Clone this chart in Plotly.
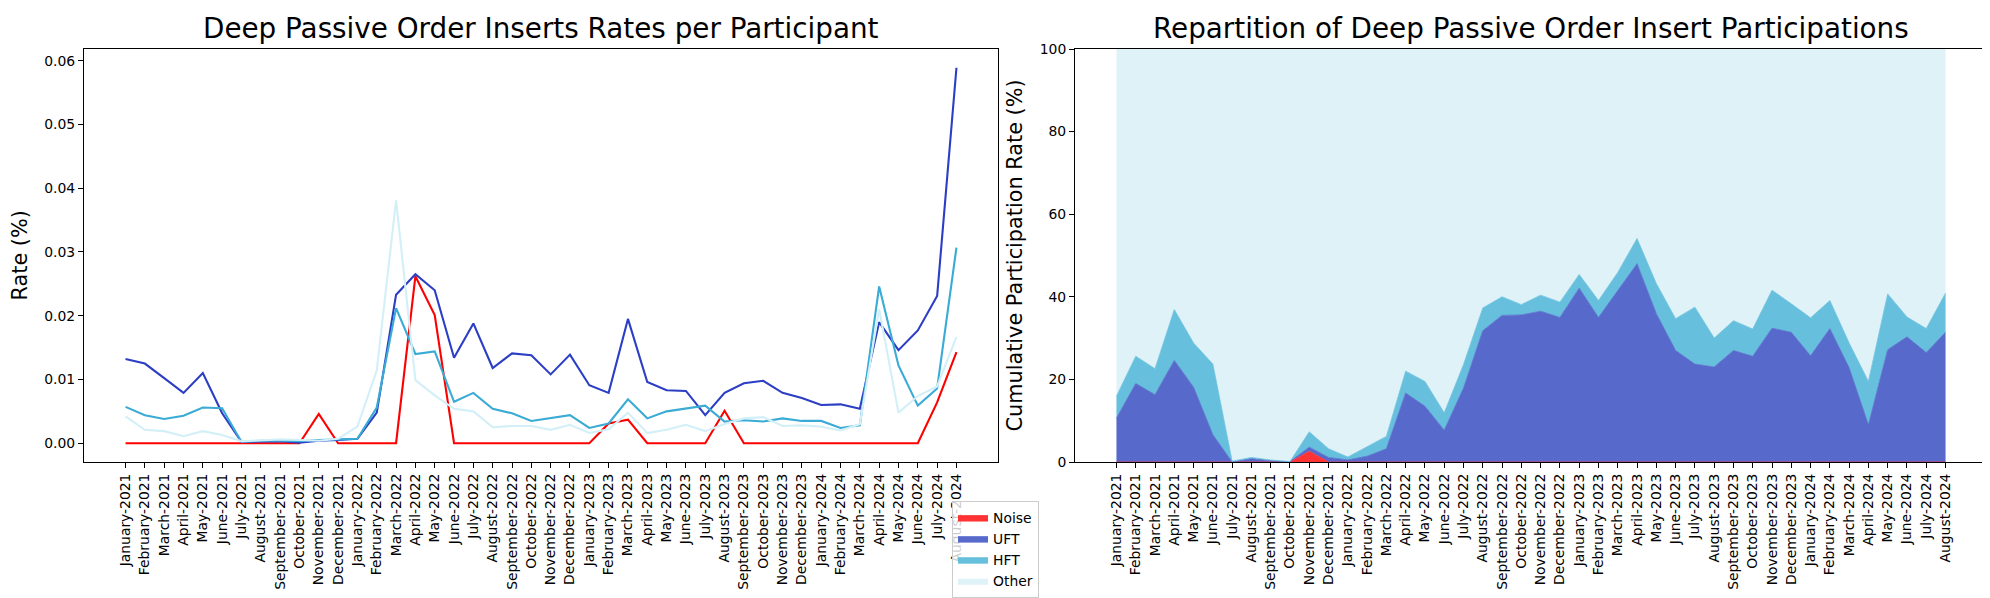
import plotly.graph_objects as go

month_names = ["January", "February", "March", "April", "May", "June", "July",
               "August", "September", "October", "November", "December"]
months = [f"{m}-{y}" for y in (2021, 2022, 2023, 2024) for m in month_names][:44]

# Left chart: Deep passive order insert rates (%) per participant
rate_noise = [0.0, 0.0, 0.0, 0.0, 0.0, 0.0, 0.0, 0.0, 0.0, 0.0, 0.0046, 0.0,
              0.0, 0.0, 0.0, 0.0262, 0.0201, 0.0, 0.0, 0.0, 0.0, 0.0, 0.0, 0.0,
              0.0, 0.0031, 0.0037, 0.0, 0.0, 0.0, 0.0, 0.0051, 0.0, 0.0, 0.0, 0.0,
              0.0, 0.0, 0.0, 0.0, 0.0, 0.0, 0.0064, 0.0143]
rate_uft = [0.0132, 0.0125, 0.0102, 0.0079, 0.0110, 0.0047, 0.0002, 0.0003, 0.0003, 0.0001, 0.0004, 0.0005,
            0.0007, 0.0048, 0.0233, 0.0265, 0.0240, 0.0134, 0.0188, 0.0118, 0.0141, 0.0138, 0.0108, 0.0139,
            0.0091, 0.0079, 0.0195, 0.0096, 0.0083, 0.0082, 0.0044, 0.0079, 0.0094, 0.0098, 0.0079, 0.0071,
            0.0060, 0.0061, 0.0054, 0.0190, 0.0146, 0.0177, 0.0231, 0.0589]
rate_hft = [0.0057, 0.0044, 0.0038, 0.0043, 0.0056, 0.0055, 0.0002, 0.0004, 0.0004, 0.0003, 0.0005, 0.0006,
            0.0007, 0.0056, 0.0212, 0.0140, 0.0144, 0.0065, 0.0079, 0.0054, 0.0047, 0.0035, 0.0040, 0.0044,
            0.0024, 0.0031, 0.0069, 0.0039, 0.0050, 0.0054, 0.0059, 0.0034, 0.0036, 0.0034, 0.0039, 0.0035,
            0.0035, 0.0024, 0.0028, 0.0246, 0.0122, 0.0059, 0.0086, 0.0307]
rate_other = [0.0042, 0.0021, 0.0019, 0.0011, 0.0019, 0.0013, 0.0003, 0.0005, 0.0006, 0.0005, 0.0004, 0.0007,
              0.0026, 0.0114, 0.0381, 0.0099, 0.0075, 0.0054, 0.0050, 0.0025, 0.0027, 0.0027, 0.0021, 0.0029,
              0.0016, 0.0022, 0.0048, 0.0016, 0.0021, 0.0029, 0.0019, 0.0030, 0.0039, 0.0041, 0.0027, 0.0028,
              0.0026, 0.0020, 0.0030, 0.0210, 0.0048, 0.0074, 0.0089, 0.0167]

# Right chart: participation shares (%)
share_noise = [0.0, 0.0, 0.0, 0.0, 0.0, 0.0, 0.0, 0.0, 0.0, 0.0, 2.6, 0.0,
               0.0, 0.0, 0.0, 0.0, 0.0, 0.0, 0.0, 0.0, 0.0, 0.0, 0.0, 0.0,
               0.0, 0.0, 0.0, 0.0, 0.0, 0.0, 0.0, 0.0, 0.0, 0.0, 0.0, 0.0,
               0.0, 0.0, 0.0, 0.0, 0.0, 0.0, 0.0, 0.0]
share_uft = [10.6, 19.0, 16.3, 24.6, 18.1, 6.6, 0.0, 0.8, 0.3, 0.1, 1.0, 1.1,
             0.5, 1.4, 3.2, 16.7, 13.5, 7.7, 17.9, 31.8, 35.5, 35.6, 36.5, 35.0,
             42.1, 35.0, 41.5, 48.0, 35.9, 27.0, 23.7, 23.0, 27.0, 25.6, 32.4, 31.4,
             25.7, 32.3, 22.8, 9.0, 27.2, 30.3, 26.5, 31.4]
share_hft = [5.3, 6.6, 6.3, 12.3, 10.7, 17.1, 0.2, 0.3, 0.2, 0.0, 3.7, 2.1,
             0.7, 2.4, 3.0, 5.3, 6.0, 4.2, 5.7, 5.5, 4.5, 2.5, 3.9, 3.7,
             3.3, 4.1, 4.4, 6.1, 7.3, 7.7, 13.8, 7.0, 7.2, 6.6, 9.2, 6.9,
             9.2, 6.8, 6.0, 10.5, 13.5, 4.8, 5.8, 9.5]
share_other = [84.1, 74.4, 77.4, 63.1, 71.2, 76.3, 99.8, 98.9, 99.5, 99.9, 92.7, 96.8,
               98.8, 96.2, 93.8, 78.0, 80.5, 88.1, 76.4, 62.7, 60.0, 61.9, 59.6, 61.3,
               54.6, 60.9, 54.1, 45.9, 56.8, 65.3, 62.5, 70.0, 65.8, 67.8, 58.4, 61.7,
               65.1, 60.9, 71.2, 80.5, 59.3, 64.9, 67.7, 59.1]

left_ticks = [0.0, 0.01, 0.02, 0.03, 0.04, 0.05, 0.06]
left_ticktext = ["0.00", "0.01", "0.02", "0.03", "0.04", "0.05", "0.06"]
right_ticks = [0, 20, 40, 60, 80, 100]

names = ["Noise", "UFT", "HFT", "Other"]
line_colors = ["#ff0000", "#2b3ec4", "#3aabd5", "#d3eff7"]
fill_colors = ["rgba(255,51,51,1)", "rgba(88,105,204,1)", "rgba(102,191,220,1)", "rgba(223,242,248,1)"]

FONT = "DejaVu Sans"
W, H = 1990, 598

fig = go.Figure()

rates = [rate_noise, rate_uft, rate_hft, rate_other]
for name, vals, col in zip(names, rates, line_colors):
    fig.add_trace(go.Scatter(x=months, y=vals, mode="lines", name=name,
                             line=dict(color=col, width=2.1), showlegend=False,
                             xaxis="x", yaxis="y"))

shares = [share_noise, share_uft, share_hft, share_other]
for name, vals, col in zip(names, shares, fill_colors):
    fig.add_trace(go.Scatter(x=months, y=vals, mode="lines", name=name,
                             stackgroup="one", fillcolor=col,
                             line=dict(color=col, width=0.8 if name != "Other" else 0),
                             showlegend=True, xaxis="x2", yaxis="y2"))

def px_x(v):
    return v / W

def px_y(v):
    return 1 - v / H

ax_common = dict(
    showgrid=False, zeroline=False, showline=True, linecolor="black", linewidth=1,
    mirror=True, ticks="outside", ticklen=5, tickwidth=1, tickcolor="black",
    tickfont=dict(family=FONT, size=13.9, color="black"), automargin=False,
    layer="above traces",
)

n = len(months)
xr = [-0.05 * (n - 1), (n - 1) * 1.05]

fig.update_layout(
    width=W, height=H,
    margin=dict(l=0, r=0, t=0, b=0),
    paper_bgcolor="white", plot_bgcolor="white",
    font=dict(family=FONT, size=13.9, color="black"),
    xaxis=dict(domain=[px_x(76), px_x(990)], anchor="y", type="category",
               categoryorder="array", categoryarray=months, range=xr,
               tickangle=-90, **ax_common),
    yaxis=dict(domain=[px_y(454), px_y(41)], anchor="x",
               range=[-0.05 * 0.0589, 0.0589 * 1.05],
               tickvals=left_ticks, ticktext=left_ticktext, **ax_common),
    xaxis2=dict(domain=[px_x(1067), px_x(1979)], anchor="y2", type="category",
                categoryorder="array", categoryarray=months, range=xr,
                tickangle=-90, **ax_common),
    yaxis2=dict(domain=[px_y(454), px_y(41)], anchor="x2", range=[0, 100],
                tickvals=right_ticks, **ax_common),
    legend=dict(x=px_x(944), y=px_y(493), xanchor="left", yanchor="top",
                traceorder="normal", bgcolor="rgba(255,255,255,0.8)",
                bordercolor="#cccccc", borderwidth=1,
                font=dict(family=FONT, size=13.9, color="black"),
                itemwidth=30, tracegroupgap=0),
    annotations=[
        dict(text="Deep Passive Order Inserts Rates per Participant", x=px_x(533), y=px_y(39),
             xref="paper", yref="paper", xanchor="center", yanchor="bottom", showarrow=False,
             font=dict(family=FONT, size=27.8, color="black")),
        dict(text="Repartition of Deep Passive Order Insert Participations", x=px_x(1523), y=px_y(39),
             xref="paper", yref="paper", xanchor="center", yanchor="bottom", showarrow=False,
             font=dict(family=FONT, size=27.8, color="black")),
        dict(text="Rate (%)", x=px_x(11), y=px_y(247.5), xref="paper", yref="paper",
             xanchor="center", yanchor="middle", textangle=-90, showarrow=False,
             font=dict(family=FONT, size=20.8, color="black")),
        dict(text="Cumulative Participation Rate (%)", x=px_x(1006), y=px_y(247.5),
             xref="paper", yref="paper", xanchor="center", yanchor="middle", textangle=-90,
             showarrow=False, font=dict(family=FONT, size=20.8, color="black")),
    ],
)

fig.write_html("out.html")
